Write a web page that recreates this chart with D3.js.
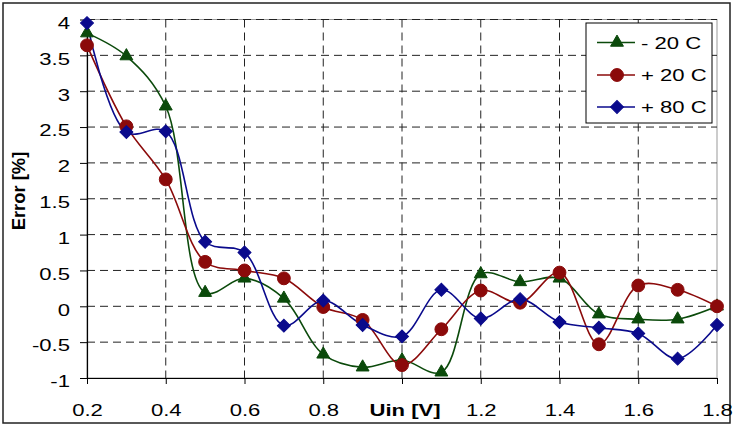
<html>
<head>
<meta charset="utf-8">
<script src="https://d3js.org/d3.v7.min.js"></script>
<style>
  body { margin: 0; background: #fff; }
  text { font-family: "Liberation Sans", Arial, sans-serif; }
</style>
</head>
<body>
<script>

var uin = [0.2, 0.3, 0.4, 0.5, 0.6, 0.7, 0.8, 0.9, 1.0, 1.1, 1.2, 1.3, 1.4, 1.5, 1.6, 1.7, 1.8];
var seriesNames = ["- 20 C", "+ 20 C", "+ 80 C"];
var errMinus20 = [3.81, 3.49, 2.79, 0.19, 0.39, 0.11, -0.67, -0.85, -0.75, -0.92, 0.45, 0.34, 0.39, -0.11, -0.18, -0.18, 0.0];
var errPlus20  = [3.64, 2.51, 1.77, 0.62, 0.5, 0.39, -0.01, -0.19, -0.82, -0.32, 0.22, 0.05, 0.47, -0.53, 0.29, 0.23, 0.0];
var errPlus80  = [3.95, 2.43, 2.44, 0.9, 0.75, -0.27, 0.08, -0.26, -0.42, 0.23, -0.17, 0.1, -0.22, -0.3, -0.38, -0.73, -0.26];
var xTicks = [0.2, 0.4, 0.6, 0.8, 1.0, 1.2, 1.4, 1.6, 1.8];
var yTicks = [-1, -0.5, 0, 0.5, 1, 1.5, 2, 2.5, 3, 3.5, 4];

var width = 733, height = 425;
var sx = 1.38; // text in the picture is stretched sideways

var svg = d3.select("body").append("svg")
  .attr("width", width)
  .attr("height", height);

// outer frame
svg.append("rect")
  .attr("x", 3).attr("y", 3)
  .attr("width", 727).attr("height", 420)
  .attr("fill", "none")
  .attr("stroke", "#222")
  .attr("stroke-width", 1.5);

var x = d3.scaleLinear().domain([0.2, 1.8]).range([87, 717]);
var y = d3.scaleLinear().domain([-1, 4]).range([378, 19.5]);

// plot area border
svg.append("rect")
  .attr("x", x(0.2)).attr("y", y(4))
  .attr("width", x(1.8) - x(0.2)).attr("height", y(-1) - y(4))
  .attr("fill", "none")
  .attr("stroke", "#999")
  .attr("stroke-width", 1);

// grid
svg.append("g").selectAll("line")
  .data(yTicks.filter(function(d) { return d > -1; }))
  .enter().append("line")
  .attr("x1", x(0.2)).attr("x2", x(1.8))
  .attr("y1", function(d) { return y(d); })
  .attr("y2", function(d) { return y(d); })
  .attr("stroke", "#222")
  .attr("stroke-width", 1)
  .attr("stroke-dasharray", "8,5");

svg.append("g").selectAll("line")
  .data(xTicks.filter(function(d) { return d > 0.2 && d < 1.8; }))
  .enter().append("line")
  .attr("x1", function(d) { return x(d); })
  .attr("x2", function(d) { return x(d); })
  .attr("y1", y(4)).attr("y2", y(-1))
  .attr("stroke", "#222")
  .attr("stroke-width", 1)
  .attr("stroke-dasharray", "8,5");

// axes
var fmt = function(d) { return String(+d.toFixed(1)); };

var yAxis = svg.append("g")
  .attr("transform", "translate(" + x(0.2) + ",0)")
  .call(d3.axisLeft(y).tickValues(yTicks).tickFormat(fmt).tickSize(7).tickSizeOuter(0));

var xAxis = svg.append("g")
  .attr("transform", "translate(0," + y(-1) + ")")
  .call(d3.axisBottom(x).tickValues(xTicks)
    .tickFormat(function(d) { return Math.abs(d - 1) < 1e-9 ? "" : fmt(d); })
    .tickSize(6).tickSizeOuter(0));

svg.selectAll(".domain").attr("stroke", "#000").attr("stroke-width", 1.2);
svg.selectAll(".tick line").attr("stroke", "#000");

yAxis.selectAll("text")
  .attr("x", -17 / sx)
  .attr("dy", "0.55em")
  .attr("transform", "scale(" + sx + ",1)")
  .attr("font-size", 16)
  .attr("fill", "#000");

xAxis.selectAll("text")
  .attr("y", 38)
  .attr("dy", 0)
  .attr("transform", "scale(" + sx + ",1)")
  .attr("font-size", 16)
  .attr("fill", "#000");

// axis titles
svg.append("text")
  .attr("transform", "translate(" + (x(1.0) + 3) + ",416) scale(" + sx + ",1)")
  .attr("text-anchor", "middle")
  .attr("font-size", 16)
  .attr("font-weight", "bold")
  .text("Uin [V]");

svg.append("text")
  .attr("transform", "translate(25,191) rotate(-90) scale(1.15,1.1)")
  .attr("text-anchor", "middle")
  .attr("font-size", 16)
  .attr("font-weight", "bold")
  .text("Error [%]");

// series
var colors = ["#0b4a0b", "#8b0a0a", "#0a0a8c"];
var symbols = [
  d3.symbol().type(d3.symbolTriangle).size(72),
  d3.symbol().type(d3.symbolCircle).size(130),
  d3.symbol().type(d3.symbolSquare).size(84)
];
var rot = [0, 0, 45];
var allSeries = [errMinus20, errPlus20, errPlus80];

var line = d3.line()
  .x(function(d, i) { return x(uin[i]); })
  .y(function(d) { return y(d); })
  .curve(d3.curveCatmullRom.alpha(0.5));

allSeries.forEach(function(vals, k) {
  svg.append("path")
    .datum(vals)
    .attr("d", line)
    .attr("fill", "none")
    .attr("stroke", colors[k])
    .attr("stroke-width", 1.6);
});

allSeries.forEach(function(vals, k) {
  svg.append("g").selectAll("path")
    .data(vals)
    .enter().append("path")
    .attr("d", symbols[k])
    .attr("transform", function(d, i) {
      return "translate(" + x(uin[i]) + "," + y(d) + ") rotate(" + rot[k] + ")";
    })
    .attr("fill", colors[k])
    .attr("stroke", colors[k]);
});

// legend
var legend = svg.append("g").attr("transform", "translate(586,23)");
legend.append("rect")
  .attr("width", 126).attr("height", 100)
  .attr("fill", "#fff")
  .attr("stroke", "#000")
  .attr("stroke-width", 1);

var rows = [19.5, 52, 84];
seriesNames.forEach(function(name, k) {
  var g = legend.append("g").attr("transform", "translate(0," + rows[k] + ")");
  g.append("line")
    .attr("x1", 11).attr("x2", 49)
    .attr("stroke", colors[k]).attr("stroke-width", 1.6);
  g.append("path")
    .attr("d", symbols[k])
    .attr("transform", "translate(31,0) rotate(" + rot[k] + ")")
    .attr("fill", colors[k]).attr("stroke", colors[k]);
  g.append("text")
    .attr("transform", "translate(55,6) scale(" + sx + ",1)")
    .attr("font-size", 16)
    .text(name);
});

</script>
</body>
</html>
